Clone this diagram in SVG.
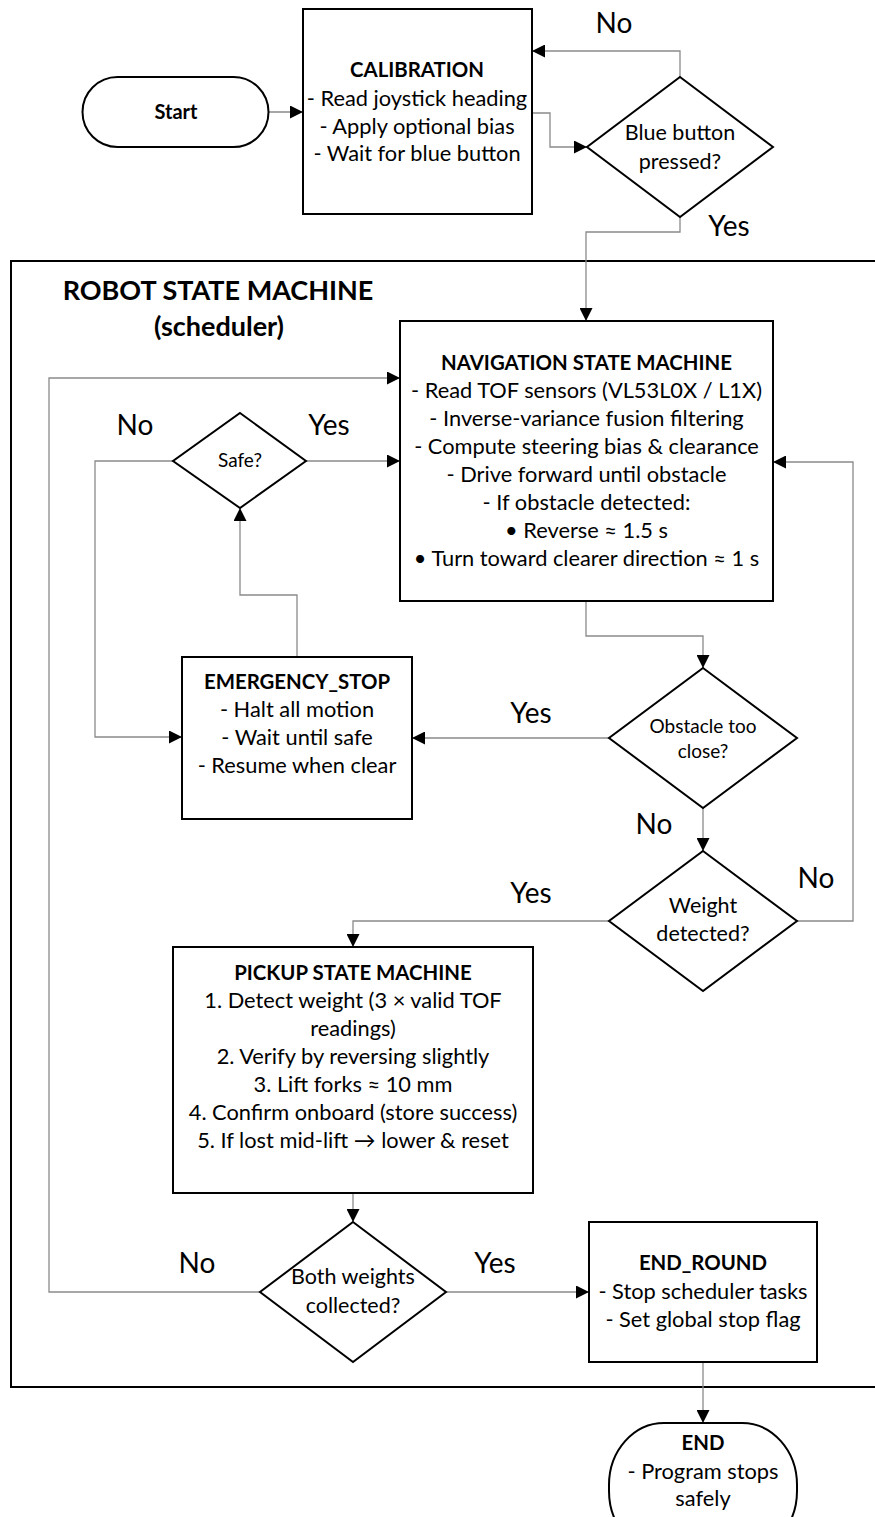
<svg xmlns="http://www.w3.org/2000/svg" width="875" height="1517" viewBox="0 0 875 1517">
<defs>
<marker id="ah" markerUnits="userSpaceOnUse" markerWidth="14" markerHeight="13" refX="13" refY="6.5" orient="auto">
<path d="M0,0 L13,6.5 L0,13 z" fill="#000"/>
</marker>
<style>
.box{fill:#fff;stroke:#000;stroke-width:2}
.frame{fill:none;stroke:#000;stroke-width:2}
.con{fill:none;stroke:#8a8a8a;stroke-width:1.3;marker-end:url(#ah)}
text{font-family:Lato,"Liberation Sans",sans-serif;fill:#000;text-anchor:middle}
.t{font-size:21.8px}
.b{font-size:20.4px;font-weight:bold}
.d{font-size:19px}
.d2{font-size:21.5px}
.lbl{font-size:28px}
.big{font-size:27px;font-weight:bold}
</style>
</defs>
<rect width="875" height="1517" fill="#fff"/>
<path class="frame" d="M880,261 H11 V1387 H880"/>
<g id="title">
<text class="big" x="218" y="300">ROBOT STATE MACHINE</text>
<text class="big" x="219" y="336">(scheduler)</text>
</g>
<g id="connectors">
<path class="con" d="M269,112 H303"/>
<path class="con" d="M532,113 H550 V147 H587"/>
<path class="con" d="M680,77 V51 H532"/>
<path class="con" d="M680,217 V232 H586 V321"/>
<path class="con" d="M586,601 V636 H703 V668"/>
<path class="con" d="M609,738 H412"/>
<path class="con" d="M703,808 V851"/>
<path class="con" d="M797,921 H853 V462 H773"/>
<path class="con" d="M609,921 H353 V947"/>
<path class="con" d="M353,1193 V1222"/>
<path class="con" d="M260,1292 H49 V378 H400"/>
<path class="con" d="M446,1292 H589"/>
<path class="con" d="M703,1362 V1423"/>
<path class="con" d="M297,657 V595 H240 V508"/>
<path class="con" d="M173,461 H95 V737 H182"/>
<path class="con" d="M306,461 H400"/>
</g>
<g id="labels">
<text class="lbl" x="614" y="33">No</text>
<text class="lbl" x="729" y="236">Yes</text>
<text class="lbl" x="135" y="435">No</text>
<text class="lbl" x="329" y="435">Yes</text>
<text class="lbl" x="531" y="723">Yes</text>
<text class="lbl" x="654" y="834">No</text>
<text class="lbl" x="816" y="888">No</text>
<text class="lbl" x="531" y="903">Yes</text>
<text class="lbl" x="197" y="1273">No</text>
<text class="lbl" x="495" y="1273">Yes</text>
</g>
<g id="start">
<rect class="box" x="82.5" y="77" width="186" height="70" rx="35"/>
<text class="b" x="176" y="119" style="font-size:20px">Start</text>
</g>
<g id="calibration">
<rect class="box" x="303" y="9" width="229" height="205"/>
<text class="b" x="417" y="77">CALIBRATION</text>
<text class="t" x="417" y="106">- Read joystick heading</text>
<text class="t" x="417" y="134">- Apply optional bias</text>
<text class="t" x="417" y="161">- Wait for blue button</text>
</g>
<g id="blue-button">
<polygon class="box" points="680,77 773,147 680,217 587,147"/>
<text class="d2" x="680" y="140">Blue button</text>
<text class="d2" x="680" y="169">pressed?</text>
</g>
<g id="navigation">
<rect class="box" x="400" y="321" width="373" height="280"/>
<text class="b" x="586.5" y="370">NAVIGATION STATE MACHINE</text>
<text class="t" x="586.5" y="398">- Read TOF sensors (VL53L0X / L1X)</text>
<text class="t" x="586.5" y="426">- Inverse-variance fusion filtering</text>
<text class="t" x="586.5" y="454">- Compute steering bias &amp; clearance</text>
<text class="t" x="586.5" y="482">- Drive forward until obstacle</text>
<text class="t" x="586.5" y="510">- If obstacle detected:</text>
<text class="t" x="586.5" y="538">• Reverse ≈ 1.5 s</text>
<text class="t" x="586.5" y="566">• Turn toward clearer direction ≈ 1 s</text>
</g>
<g id="safe">
<polygon class="box" points="240,413 306,461 240,508 173,461"/>
<text class="d" x="240" y="467">Safe?</text>
</g>
<g id="emergency-stop">
<rect class="box" x="182" y="657" width="230" height="162"/>
<text class="b" x="297" y="689">EMERGENCY_STOP</text>
<text class="t" x="297" y="717">- Halt all motion</text>
<text class="t" x="297" y="745">- Wait until safe</text>
<text class="t" x="297" y="773">- Resume when clear</text>
</g>
<g id="obstacle">
<polygon class="box" points="703,668 797,738 703,808 609,738"/>
<text class="d" x="703" y="733">Obstacle too</text>
<text class="d" x="703" y="758">close?</text>
</g>
<g id="weight">
<polygon class="box" points="703,851 797,921 703,991 609,921"/>
<text class="d2" x="703" y="913">Weight</text>
<text class="d2" x="703" y="941">detected?</text>
</g>
<g id="pickup">
<rect class="box" x="173" y="947" width="360" height="246"/>
<text class="b" x="353" y="980">PICKUP STATE MACHINE</text>
<text class="t" x="353" y="1008">1. Detect weight (3 × valid TOF</text>
<text class="t" x="353" y="1036">readings)</text>
<text class="t" x="353" y="1064">2. Verify by reversing slightly</text>
<text class="t" x="353" y="1092">3. Lift forks ≈ 10 mm</text>
<text class="t" x="353" y="1120">4. Confirm onboard (store success)</text>
<text class="t" x="353" y="1148">5. If lost mid-lift → lower &amp; reset</text>
</g>
<g id="both-weights">
<polygon class="box" points="353,1222 446,1292 353,1362 260,1292"/>
<text class="d2" x="353" y="1284">Both weights</text>
<text class="d2" x="353" y="1313">collected?</text>
</g>
<g id="end-round">
<rect class="box" x="589" y="1222" width="228" height="140"/>
<text class="b" x="703" y="1270">END_ROUND</text>
<text class="t" x="703" y="1299">- Stop scheduler tasks</text>
<text class="t" x="703" y="1327">- Set global stop flag</text>
</g>
<g id="end">
<rect class="box" x="609" y="1423" width="188" height="130" rx="55" ry="62"/>
<text class="b" x="703" y="1450">END</text>
<text class="t" x="703" y="1479">- Program stops</text>
<text class="t" x="703" y="1506">safely</text>
</g>
</svg>
